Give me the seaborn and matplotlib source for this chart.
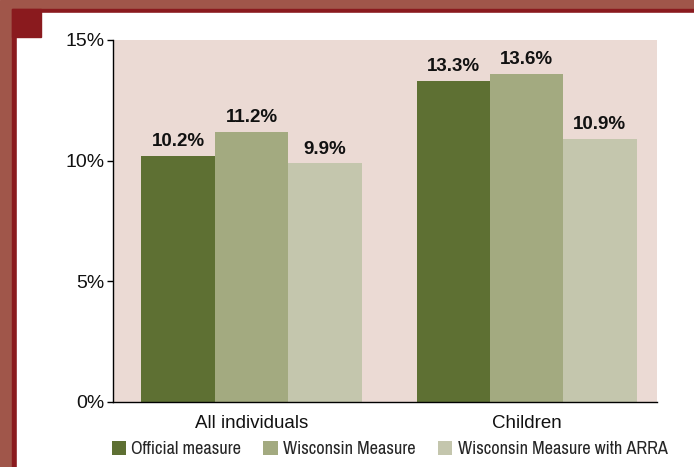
import matplotlib
matplotlib.use("Agg")
import matplotlib.pyplot as plt
from matplotlib.patches import Rectangle, Patch
import matplotlib.ticker as mticker
import seaborn as sns
import pandas as pd

groups = ["All individuals", "Children"]
series = ["Official measure", "Wisconsin Measure", "Wisconsin Measure with ARRA"]
official = [10.2, 13.3]
wisconsin = [11.2, 13.6]
wisconsin_arra = [9.9, 10.9]
yticks = [0, 5, 10, 15]
colors = ["#5E7033", "#A3AA80", "#C4C6AD"]

rows = []
for s, vals in zip(series, [official, wisconsin, wisconsin_arra]):
    for g, v in zip(groups, vals):
        rows.append({"group": g, "series": s, "value": v})
df = pd.DataFrame(rows)

sns.set_theme(style="white")
plt.rcParams["font.family"] = ["Liberation Sans", "DejaVu Sans"]

W, H = 694, 467
fig = plt.figure(figsize=(W / 100, H / 100), dpi=100)
fig.patch.set_facecolor("white")

# frame decoration
fig.add_artist(Rectangle((0, 0), 1, 1, transform=fig.transFigure, color="#A0564A", zorder=0))
fig.add_artist(Rectangle((12 / W, 0), 1, (H - 9) / H, transform=fig.transFigure, color="#8A1A1E", zorder=0))
fig.add_artist(Rectangle((17 / W, 0), 1, (H - 13) / H, transform=fig.transFigure, color="white", zorder=0))
fig.add_artist(Rectangle((12 / W, (H - 37) / H), 29 / W, 28 / H, transform=fig.transFigure, color="#8A1A1E", zorder=0))

ax = fig.add_axes([113 / W, (H - 402) / H, (657 - 113) / W, (402 - 40) / H])
ax.set_facecolor("#EBDAD4")

sns.barplot(data=df, x="group", y="value", hue="series", palette=colors,
            order=groups, hue_order=series, width=0.8, ax=ax, legend=False,
            saturation=1, edgecolor="none", linewidth=0)

for c in ax.containers:
    ax.bar_label(c, fmt="%.1f%%", padding=4, fontsize=13.5, fontweight="bold", color="#111111")

ax.set_ylim(0, 15)
ax.set_xlim(-0.5036, 1.4745)
ax.set_yticks(yticks)
ax.yaxis.set_major_formatter(mticker.FuncFormatter(lambda v, p: f"{v:.0f}%"))
ax.set_xlabel("")
ax.set_ylabel("")
for s in ["top", "right"]:
    ax.spines[s].set_visible(False)
for s in ["left", "bottom"]:
    ax.spines[s].set_color("black")
    ax.spines[s].set_linewidth(1.0)
ax.tick_params(axis="y", which="major", left=True, length=4, width=1, color="black",
               labelsize=14, pad=2, labelcolor="#111111")
ax.tick_params(axis="x", which="major", bottom=False, length=0, labelsize=13.5, pad=9, labelcolor="#111111")

handles = [Patch(facecolor=c, edgecolor="none") for c in colors]
leg = fig.legend(handles, series, loc="center", bbox_to_anchor=(389.5 / W, (H - 449) / H), ncol=3,
                 frameon=False, handlelength=0.78, handleheight=0.78, handletextpad=0.3,
                 columnspacing=1.2,
                 prop={"family": ["Archivo Narrow", "Liberation Sans Narrow", "Liberation Sans"], "size": 13.2})

fig.savefig("out.png", dpi=100)
